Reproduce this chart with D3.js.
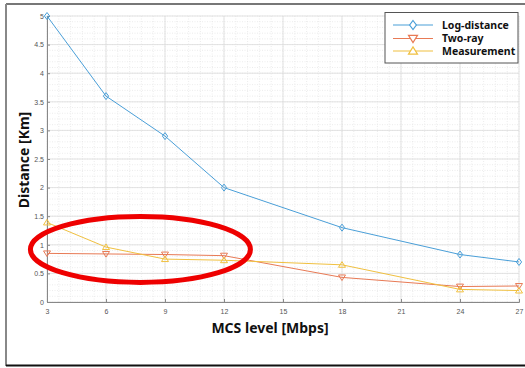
<!DOCTYPE html>
<html>
<head>
<meta charset="utf-8">
<title>MCS level vs Distance</title>
<style>
  body { margin: 0; background: #fff; }
  .tick text { font-family: "Liberation Sans", Arial, sans-serif; font-size: 7px; fill: #555; }
  .lbl { font-family: "Noto Sans", "Open Sans", sans-serif; font-weight: bold; font-size: 14px; fill: #111; }
  .leg { font-family: "Noto Sans", "Open Sans", sans-serif; font-weight: bold; font-size: 10.5px; fill: #111; }
</style>
</head>
<body>
<script src="https://cdnjs.cloudflare.com/ajax/libs/d3/7.8.5/d3.min.js"></script>
<script>
// data
var mcs = [3, 6, 9, 12, 18, 24, 27];
var logDistance = [5.0, 3.6, 2.9, 2.0, 1.3, 0.83, 0.70];
var twoRay = [0.85, 0.84, 0.83, 0.81, 0.43, 0.27, 0.28];
var measurement = [1.39, 0.96, 0.75, 0.73, 0.65, 0.22, 0.20];
var xTicks = [3, 6, 9, 12, 15, 18, 21, 24, 27];
var yTicks = [0, 0.5, 1, 1.5, 2, 2.5, 3, 3.5, 4, 4.5, 5];
var seriesNames = ['Log-distance', 'Two-ray', 'Measurement'];
var seriesColors = ['#4a9fd8', '#e87a55', '#f0c040'];

var W = 525, H = 368;
var svg = d3.select('body').append('svg').attr('width', W).attr('height', H);

// outer frame (screenshot border)
svg.append('line').attr('x1', 6).attr('y1', 4).attr('x2', W).attr('y2', 4)
  .attr('stroke', '#777').attr('stroke-width', 2);
svg.append('line').attr('x1', 6).attr('y1', 4).attr('x2', 6).attr('y2', 366)
  .attr('stroke', '#888').attr('stroke-width', 2);
svg.append('line').attr('x1', 6).attr('y1', 365.5).attr('x2', W).attr('y2', 365.5)
  .attr('stroke', '#111').attr('stroke-width', 2);

var x = d3.scaleLinear().domain([3, 27]).range([47, 519]);
var y = d3.scaleLinear().domain([0, 5]).range([302, 16]);

// minor grid
var g = svg.append('g');
d3.range(3, 27.01, 0.6).forEach(function(v) {
  g.append('line').attr('x1', x(v)).attr('x2', x(v)).attr('y1', y(0)).attr('y2', y(5))
    .attr('stroke', '#e4e4e4').attr('stroke-width', 0.7).attr('stroke-dasharray', '1,1.5');
});
d3.range(0, 5.01, 0.1).forEach(function(v) {
  g.append('line').attr('x1', x(3)).attr('x2', x(27)).attr('y1', y(v)).attr('y2', y(v))
    .attr('stroke', '#e4e4e4').attr('stroke-width', 0.7).attr('stroke-dasharray', '1,1.5');
});
// major grid
xTicks.forEach(function(v) {
  g.append('line').attr('x1', x(v)).attr('x2', x(v)).attr('y1', y(0)).attr('y2', y(5))
    .attr('stroke', '#dcdcdc').attr('stroke-width', 0.8);
});
yTicks.forEach(function(v) {
  g.append('line').attr('x1', x(3)).attr('x2', x(27)).attr('y1', y(v)).attr('y2', y(v))
    .attr('stroke', '#dcdcdc').attr('stroke-width', 0.8);
});

// axes
var xAxis = svg.append('g').attr('transform', 'translate(0,' + y(0) + ')')
  .call(d3.axisBottom(x).tickValues(xTicks).tickSize(-3).tickPadding(7));
var yAxis = svg.append('g').attr('transform', 'translate(' + x(3) + ',0)')
  .call(d3.axisLeft(y).tickValues(yTicks).tickSize(-3).tickPadding(3).tickFormat(d3.format('')));
[xAxis, yAxis].forEach(function(a) {
  a.select('.domain').attr('stroke', '#888');
  a.selectAll('.tick line').attr('stroke', '#888');
});

// series
var series = [logDistance, twoRay, measurement];
var line = d3.line().x(function(d, i) { return x(mcs[i]); }).y(function(d) { return y(d); });
var markers = [
  function(s) { return 'M0,' + (-s) + 'L' + s * 0.75 + ',0L0,' + s + 'L' + (-s * 0.75) + ',0Z'; },
  function(s) { return 'M' + (-s) + ',' + (-s * 0.7) + 'L' + s + ',' + (-s * 0.7) + 'L0,' + s * 0.9 + 'Z'; },
  function(s) { return 'M' + (-s) + ',' + s * 0.7 + 'L' + s + ',' + s * 0.7 + 'L0,' + (-s * 0.9) + 'Z'; }
];
series.forEach(function(vals, k) {
  svg.append('path').datum(vals).attr('d', line).attr('fill', 'none')
    .attr('stroke', seriesColors[k]).attr('stroke-width', 1);
  svg.selectAll('.m' + k).data(vals).enter().append('path')
    .attr('class', 'm' + k)
    .attr('transform', function(d, i) { return 'translate(' + x(mcs[i]) + ',' + y(d) + ')'; })
    .attr('d', markers[k](3.5)).attr('fill', 'none')
    .attr('stroke', seriesColors[k]).attr('stroke-width', 1);
});

// axis labels
svg.append('text').attr('class', 'lbl').attr('x', 270).attr('y', 333)
  .attr('text-anchor', 'middle').text('MCS level [Mbps]');
svg.append('text').attr('class', 'lbl').attr('transform', 'translate(29,160) rotate(-90)')
  .attr('text-anchor', 'middle').text('Distance [Km]');

// legend
var leg = svg.append('g');
leg.append('rect').attr('x', 385).attr('y', 12.5).attr('width', 133).attr('height', 50.5)
  .attr('fill', '#fff').attr('stroke', '#555').attr('stroke-width', 1);
var legY = [25, 38.5, 51];
seriesNames.forEach(function(name, k) {
  leg.append('line').attr('x1', 393).attr('x2', 433).attr('y1', legY[k]).attr('y2', legY[k])
    .attr('stroke', seriesColors[k]).attr('stroke-width', 1.2);
  leg.append('path').attr('transform', 'translate(413,' + legY[k] + ')')
    .attr('d', markers[k](4.5)).attr('fill', '#fff')
    .attr('stroke', seriesColors[k]).attr('stroke-width', 1.2);
  leg.append('text').attr('class', 'leg').attr('x', 442).attr('y', legY[k] + 3.5).text(name);
});

// red highlight ellipse
svg.append('ellipse').attr('cx', x(7.75)).attr('cy', y(0.92)).attr('rx', 110).attr('ry', 33)
  .attr('fill', 'none').attr('stroke', '#ee0000').attr('stroke-width', 5);
</script>
</body>
</html>
